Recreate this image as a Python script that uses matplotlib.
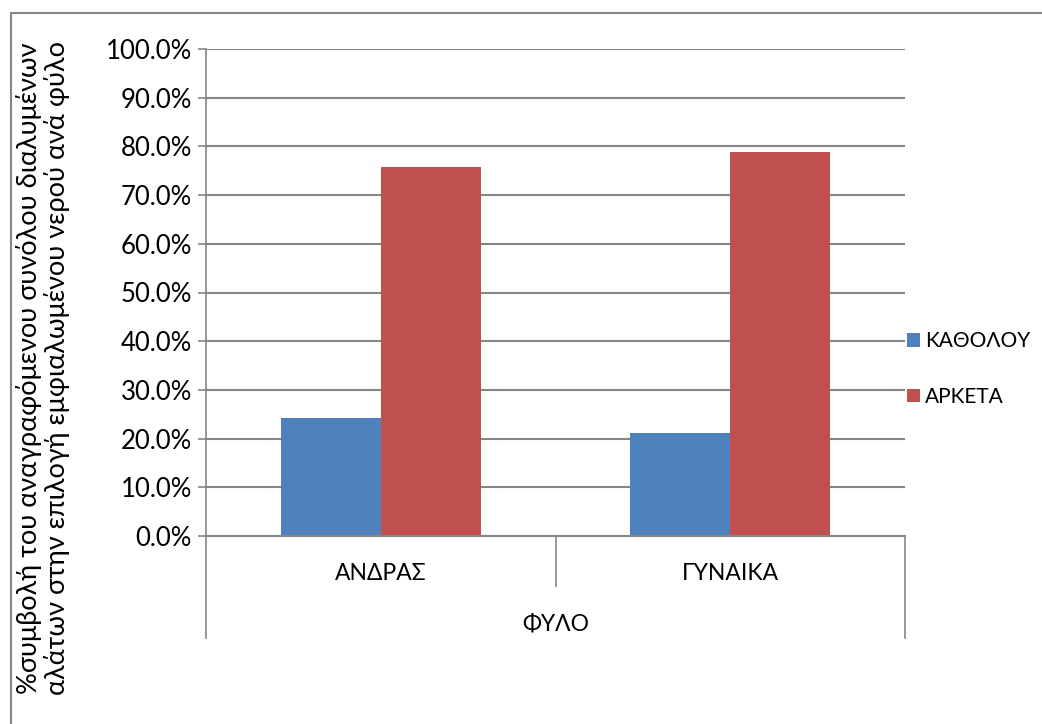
import numpy as np
import matplotlib.pyplot as plt
from matplotlib.patches import Rectangle
import matplotlib.transforms as mtransforms

plt.rcParams['font.family'] = ['Lato', 'DejaVu Sans']

categories = ["ΑΝΔΡΑΣ", "ΓΥΝΑΙΚΑ"]
group_label = "ΦΥΛΟ"
series_names = ["ΚΑΘΟΛΟΥ", "ΑΡΚΕΤΑ"]
katholou = [24.3, 21.1]
arketa = [75.7, 78.9]
yticks = [0, 10, 20, 30, 40, 50, 60, 70, 80, 90, 100]
ylabel = "%συμβολή του αναγραφόμενου συνόλου διαλυμένων\nαλάτων στην επιλογή εμφιαλωμένου νερού ανά φύλο"

colors = ["#4F81BD", "#C0504D"]
grid_c = "#868686"

fig = plt.figure(figsize=(10.42, 7.24), dpi=100)
ax = fig.add_axes([206/1042, 1-536/724, 699/1042, 487/724])

x = np.arange(len(categories))
w = 1/3.5
b1 = ax.bar(x - w/2, katholou, w, color=colors[0], label=series_names[0], zorder=3)
b2 = ax.bar(x + w/2, arketa, w, color=colors[1], label=series_names[1], zorder=3)

ax.set_xlim(-0.5, len(categories) - 0.5)
ax.set_ylim(0, 100)
ax.set_yticks(yticks)
ax.set_yticklabels([f"{v:.1f}%" for v in yticks], fontsize=18.5)
ax.tick_params(axis='y', length=6, color=grid_c, width=1.2, pad=4)
ax.set_xticks([])
ax.yaxis.grid(True, color=grid_c, linewidth=1.5, zorder=0)
for s in ["top", "right", "bottom"]:
    ax.spines[s].set_visible(False)
ax.spines["left"].set_color(grid_c)
ax.spines["left"].set_linewidth(1.2)

# category axis drawn below the plot, like a multi-level Excel axis
tr = mtransforms.blended_transform_factory(ax.transData, ax.transAxes)
px = 1 / 487  # one pixel in axes fraction (vertical)
ax.plot([-0.5, 1.5], [0, 0], transform=tr, color=grid_c, lw=1.5, clip_on=False, zorder=4)
ax.plot([-0.5, -0.5], [0, -102*px], transform=tr, color=grid_c, lw=1.2, clip_on=False)
ax.plot([1.5, 1.5], [0, -102*px], transform=tr, color=grid_c, lw=1.2, clip_on=False)
for i in range(len(categories) - 1):
    ax.plot([i + 0.5, i + 0.5], [0, -50*px], transform=tr, color=grid_c, lw=1.2, clip_on=False)
for i, c in enumerate(categories):
    ax.text(i, -37*px, c, transform=tr, ha='center', va='center', fontsize=16.5)
ax.text(0.5, -88*px, group_label, transform=tr, ha='center', va='center', fontsize=16.5)

fig.text(43/1042, 1-368/724, ylabel, rotation=90, ha='center', va='center',
         fontsize=19.5, linespacing=1.1)

fig.legend(handles=[b1, b2], loc='center left', bbox_to_anchor=(907/1042, 1-369/724),
           frameon=False, fontsize=15, handlelength=0.6, handleheight=0.6,
           handletextpad=0.25, labelspacing=1.7, borderpad=0.0, borderaxespad=0.0)

fig.patches.append(Rectangle((11/1042, -10/724), 1040/1042, 721/724, transform=fig.transFigure,
                             fill=False, edgecolor=grid_c, linewidth=1.5))

fig.savefig("out.png", dpi=100)
